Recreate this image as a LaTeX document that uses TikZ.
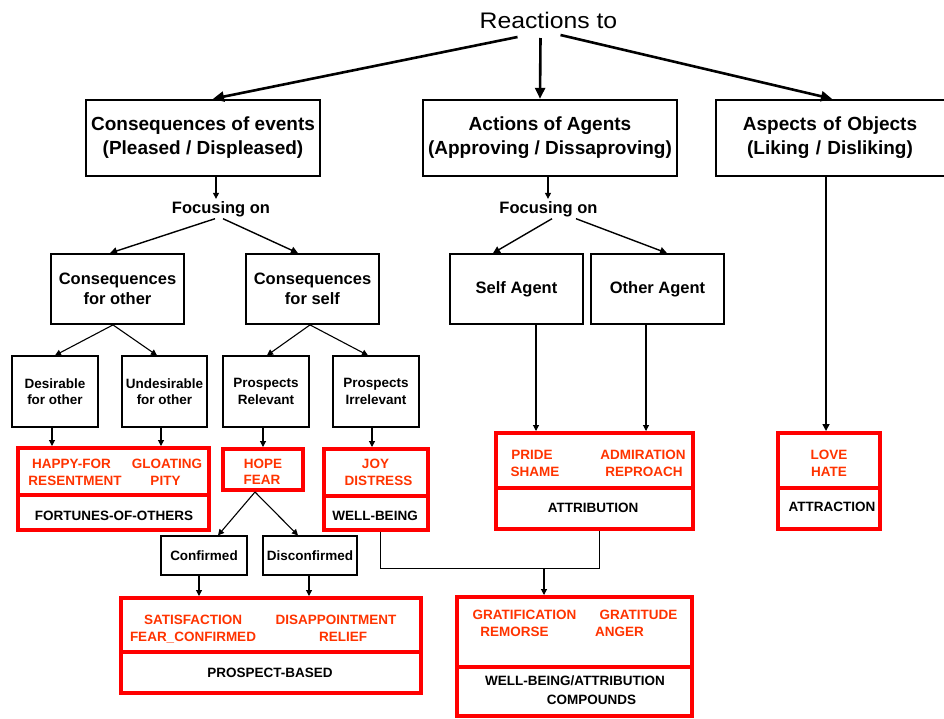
\documentclass[tikz,border=0pt]{standalone}
\usepackage{fontspec}
\setmainfont{Liberation Sans}
\usetikzlibrary{arrows.meta}
\definecolor{boxred}{RGB}{255,0,0}
\definecolor{txtred}{RGB}{255,51,0}
\begin{document}
\begin{tikzpicture}[x=1pt,y=-1pt,
  topbox/.style={draw, line width=2.4pt, minimum width=#1, minimum height=76pt, inner sep=0pt, align=center, font=\bfseries\fontsize{19}{24}\selectfont},
  midbox/.style={draw, line width=1.8pt, minimum width=133pt, minimum height=70pt, inner sep=0pt, align=center, font=\bfseries\fontsize{16.5}{19.5}\selectfont},
  lowbox/.style={draw, line width=1.2pt, minimum width=#1, minimum height=71pt, inner sep=0pt, align=center, font=\bfseries\fontsize{13.5}{16.5}\selectfont},
  smallbox/.style={draw, line width=1.2pt, minimum width=#1, minimum height=39pt, inner sep=0pt, align=center, font=\bfseries\fontsize{13.5}{16}\selectfont},
  redbox/.style={draw=boxred, line width=4pt, inner sep=0pt},
  focus/.style={inner sep=2pt, anchor=base, font=\bfseries\fontsize{16.5}{19}\selectfont},
  rtxt/.style={text=txtred, inner sep=0pt, text height=10pt, text depth=0pt, font=\bfseries\fontsize{13.5}{16}\selectfont},
  btxt/.style={text=black, inner sep=0pt, text height=10pt, text depth=0pt, font=\bfseries\fontsize{13.5}{16}\selectfont},
  bigarrow/.style={line width=2.6pt, -{Triangle[length=11pt,width=10pt]}},
  medarrow/.style={line width=1.4pt, -{Triangle[length=7pt,width=7pt]}},
  smallarrow/.style={line width=1.1pt, -{Triangle[length=6pt,width=6pt]}},
  thinline/.style={line width=1pt}
]
\useasboundingbox (0,0) rectangle (944,718);

% title
\node[inner sep=0pt, anchor=base, font=\fontsize{22.5}{26}\selectfont] (title) at (548.5,28) {\scalebox{1.1}[1]{Reactions to}};

% top level
\node[topbox=234pt] (ce) at (203,138) {Consequences of events\\(Pleased / Displeased)};
\node[topbox=254pt] (aa) at (550,138) {Actions of Agents\\(Approving / Dissaproving)};
\node[topbox=230pt, text width=226pt] (ao) at (831,138) {\hspace*{-2pt}Aspects of Objects\\\hspace*{-2pt}(Liking / Disliking)};

\draw[bigarrow] ([xshift=-31pt,yshift=-9pt]title.base) -- ([xshift=10pt]ce.north);
\draw[bigarrow] ([xshift=-8pt,yshift=-10pt]title.base) -- ([xshift=-10pt]aa.north);
\draw[bigarrow] ([xshift=12pt,yshift=-7pt]title.base) -- ([xshift=1pt]ao.north);

% focusing on
\node[focus] (foc1) at (221,213) {Focusing on};
\node[focus] (foc2) at (548.5,213) {Focusing on};
\draw[smallarrow] ([xshift=13pt]ce.south) -- ([xshift=13pt]ce.south |- foc1.north);
\draw[smallarrow] ([xshift=-2pt]aa.south) -- ([xshift=-2pt]aa.south |- foc2.north);

% level 2
\node[midbox] (cfo) at (117.5,289) {Consequences\\for other};
\node[midbox] (cfs) at (312.5,289) {Consequences\\for self};
\node[midbox] (sa) at (516.5,289) {Self Agent};
\node[midbox] (oa) at (657.5,289) {Other Agent};

\draw[medarrow] ([xshift=-6pt]foc1.south) -- ([xshift=-7.5pt]cfo.north);
\draw[medarrow] ([xshift=2pt]foc1.south) -- ([xshift=-14.5pt]cfs.north);
\draw[medarrow] ([xshift=3.5pt]foc2.south) -- ([xshift=-23.5pt]sa.north);
\draw[medarrow] ([xshift=27.5pt]foc2.south) -- ([xshift=9.5pt]oa.north);

% level 3
\node[lowbox=86pt] (dfo) at (55,391.5) {Desirable\\for other};
\node[lowbox=85pt] (ufo) at (164.5,391.5) {Undesirable\\for other};
\node[lowbox=86pt] (pr) at (266,391.5) {Prospects\\Relevant};
\node[lowbox=86pt] (pi) at (376,391.5) {Prospects\\Irrelevant};

\draw[smallarrow] ([xshift=-4.5pt]cfo.south) -- (dfo.north);
\draw[smallarrow] ([xshift=-4.5pt]cfo.south) -- ([xshift=-7.5pt]ufo.north);
\draw[smallarrow] ([xshift=-2.5pt]cfs.south) -- ([xshift=1pt]pr.north);
\draw[smallarrow] ([xshift=-2.5pt]cfs.south) -- ([xshift=-8pt]pi.north);

% red boxes
\node[redbox, minimum width=191pt, minimum height=47pt] (fortTop) at (113.5,471.5) {};
\node[redbox, minimum width=191pt, minimum height=35pt] (fortBot) at (113.5,512.5) {};
\node[redbox, minimum width=80pt, minimum height=41pt] (hf) at (263,469.5) {};
\node[redbox, minimum width=104pt, minimum height=47pt] (wbTop) at (376,472.5) {};
\node[redbox, minimum width=104pt, minimum height=34pt] (wbBot) at (376,513) {};
\node[redbox, minimum width=197pt, minimum height=55pt] (attTop) at (594.5,460.5) {};
\node[redbox, minimum width=197pt, minimum height=41pt] (attBot) at (594.5,508.5) {};
\node[redbox, minimum width=102pt, minimum height=55pt] (loveTop) at (829,460.5) {};
\node[redbox, minimum width=102pt, minimum height=41pt] (loveBot) at (829,508.5) {};
\node[redbox, minimum width=300pt, minimum height=54pt] (prTop) at (271,625) {};
\node[redbox, minimum width=300pt, minimum height=41pt] (prBot) at (271,672.5) {};
\node[redbox, minimum width=235pt, minimum height=70pt] (compTop) at (574.5,632) {};
\node[redbox, minimum width=235pt, minimum height=49pt] (compBot) at (574.5,691.5) {};

% red texts
\node[rtxt] (t1) at (71.5,463) {HAPPY-FOR};
\node[rtxt] (t2) at (75,480) {RESENTMENT};
\node[rtxt] (t3) at (167,463) {GLOATING};
\node[rtxt] (t4) at (165.5,480) {PITY};
\node[btxt] (t5) at (114,515) {FORTUNES-OF-OTHERS};
\node[rtxt] (t6) at (263,463) {HOPE};
\node[rtxt] (t7) at (262,479) {FEAR};
\node[rtxt] (t8) at (375.5,463) {JOY};
\node[rtxt] (t9) at (378.5,480) {DISTRESS};
\node[btxt] (t10) at (375,515) {WELL-BEING};
\node[rtxt] (t11) at (532,454) {PRIDE};
\node[rtxt] (t12) at (535,471) {SHAME};
\node[rtxt] (t13) at (643,454) {ADMIRATION};
\node[rtxt] (t14) at (644,471) {REPROACH};
\node[btxt] (t15) at (593,507) {ATTRIBUTION};
\node[rtxt] (t16) at (829,454) {LOVE};
\node[rtxt] (t17) at (829,471) {HATE};
\node[btxt] (t18) at (832,506) {ATTRACTION};
\node[rtxt] (t19) at (193,619) {SATISFACTION};
\node[rtxt] (t20) at (193,636) {FEAR\_CONFIRMED};
\node[rtxt] (t21) at (336,619) {DISAPPOINTMENT};
\node[rtxt] (t22) at (343,636) {RELIEF};
\node[btxt] (t23) at (270,672) {PROSPECT-BASED};
\node[rtxt] (t24) at (524.5,614) {GRATIFICATION};
\node[rtxt] (t25) at (514.5,631) {REMORSE};
\node[rtxt] (t26) at (638.5,614) {GRATITUDE};
\node[rtxt] (t27) at (619.5,631) {ANGER};
\node[btxt] (t28) at (575,680) {WELL-BEING/ATTRIBUTION};
\node[btxt] (t29) at (591.5,699) {COMPOUNDS};

% arrows into red boxes
\draw[smallarrow] ([xshift=-3pt]dfo.south) -- ([xshift=-3pt]dfo.south |- fortTop.north);
\draw[smallarrow] ([xshift=-3.5pt]ufo.south) -- ([xshift=-3.5pt]ufo.south |- fortTop.north);
\draw[smallarrow] ([xshift=-3pt]pr.south) -- ([xshift=-3pt]pr.south |- hf.north);
\draw[smallarrow] ([xshift=-4pt]pi.south) -- ([xshift=-4pt]pi.south |- wbTop.north);
\draw[smallarrow] ([xshift=19.5pt]sa.south) -- ([xshift=19.5pt]sa.south |- attTop.north);
\draw[smallarrow] ([xshift=-11.5pt]oa.south) -- ([xshift=-11.5pt]oa.south |- attTop.north);
\draw[line width=1.6pt, -{Triangle[length=7pt,width=7pt]}] ([xshift=-5pt]ao.south) -- ([xshift=-5pt]ao.south |- loveTop.north);

% confirmed / disconfirmed
\node[smallbox=86pt] (conf) at (204,555.5) {Confirmed};
\node[smallbox=94pt] (disc) at (310,555.5) {Disconfirmed};
\draw[smallarrow] ([xshift=-8pt]hf.south) -- ([xshift=14pt]conf.north);
\draw[smallarrow] ([xshift=-8pt]hf.south) -- ([xshift=-12pt]disc.north);
\draw[smallarrow] ([xshift=-5pt]conf.south) -- ([xshift=-5pt]conf.south |- prTop.north);
\draw[smallarrow] ([xshift=-1pt]disc.south) -- ([xshift=-1pt]disc.south |- prTop.north);

% compounds connector
\coordinate (junc) at (544,568);
\draw[thinline] ([xshift=4pt]wbBot.south) |- (junc) -| ([xshift=4.5pt]attBot.south);
\draw[smallarrow] (junc) -- (junc |- compTop.north);
\end{tikzpicture}
\end{document}
